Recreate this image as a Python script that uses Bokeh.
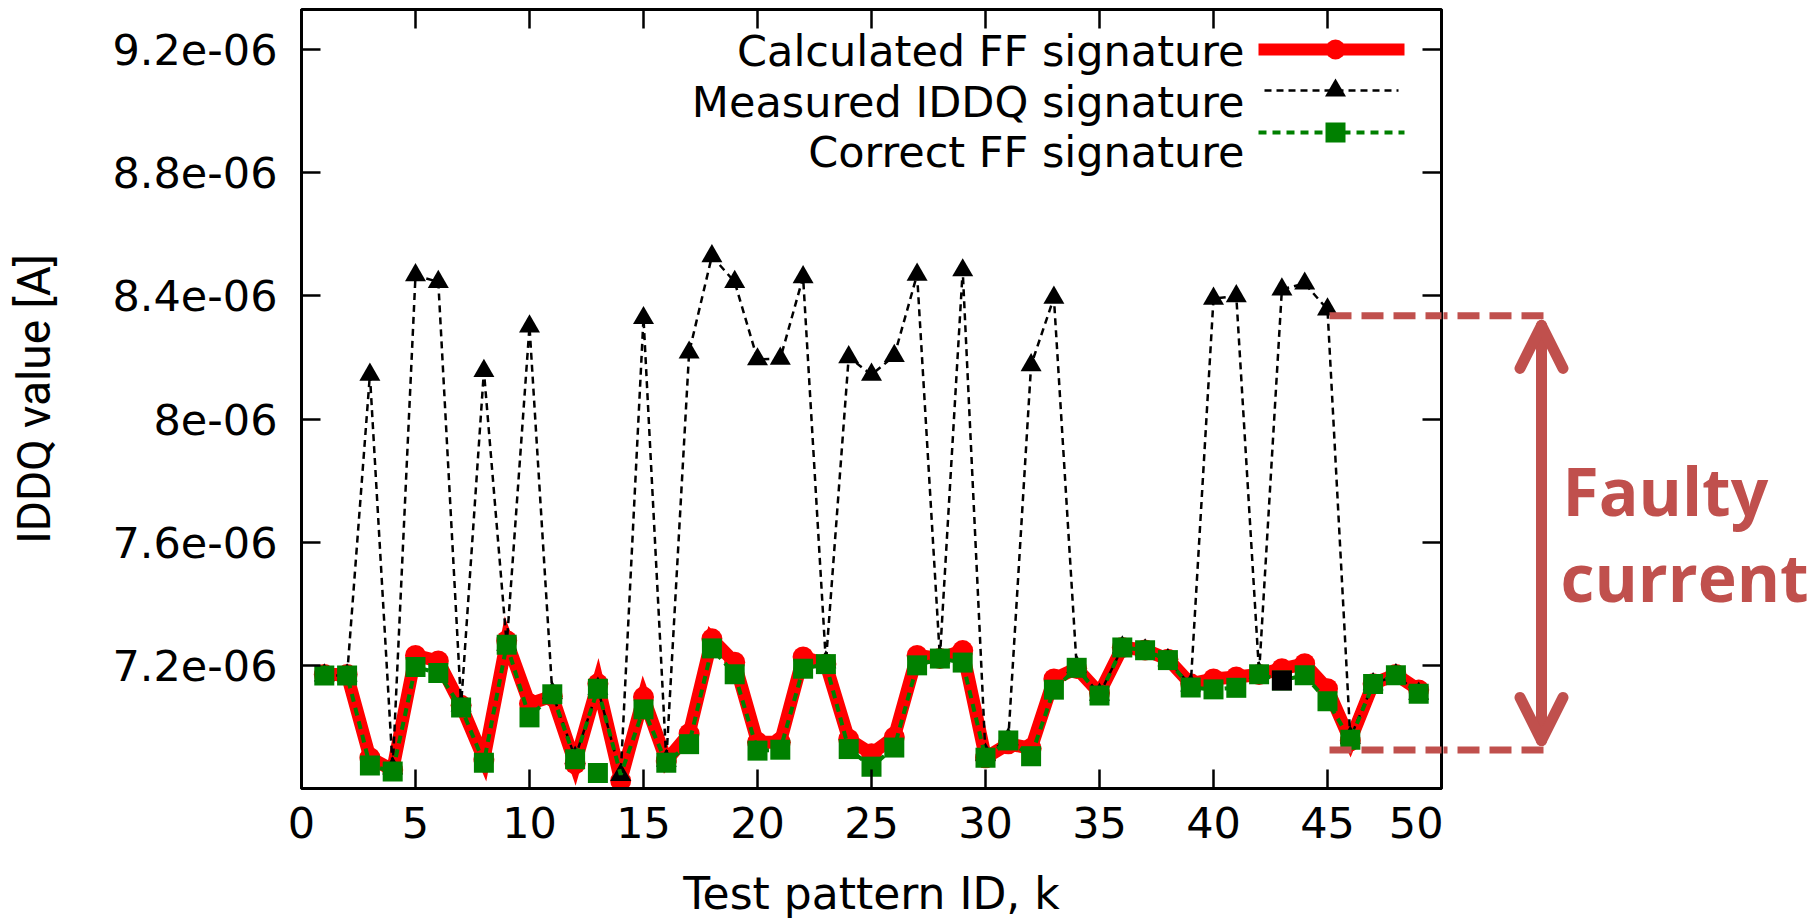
from bokeh.plotting import figure
from bokeh.layouts import row
from bokeh.models import (Range1d, FixedTicker, LinearAxis, CustomJSTickFormatter,
                          Label, ColumnDataSource, CDSView, IndexFilter)
from bokeh.core.properties import value
from bokeh.embed import file_html
from bokeh.resources import INLINE

# ---------------- data (values in microamperes) ----------------
pattern_id = list(range(1, 50))

calculated_ff_uA = [7.17, 7.17, 6.90, 6.86, 7.232, 7.214, 7.07, 6.895, 7.28, 7.075,
                    7.10, 6.88, 7.14, 6.825, 7.097, 6.89, 6.978, 7.286, 7.21, 6.95,
                    6.95, 7.227, 7.204, 6.96, 6.913, 6.967, 7.232, 7.222, 7.248, 6.90,
                    6.945, 6.93, 7.156, 7.19, 7.11, 7.258, 7.25, 7.22, 7.14, 7.156,
                    7.162, 7.17, 7.189, 7.205, 7.124, 6.955, 7.14, 7.17, 7.12]

measured_iddq_uA = [7.167, 7.167, 8.144, 6.865, 8.467, 8.445, 7.07, 8.156, 7.267, 8.301,
                    7.11, 6.90, 7.124, 6.844, 8.328, 6.89, 8.216, 8.529, 8.445, 8.194,
                    8.196, 8.461, 7.21, 8.201, 8.144, 8.205, 8.469, 7.225, 8.483, 6.91,
                    6.96, 8.175, 8.394, 7.195, 7.105, 7.258, 7.249, 7.217, 7.135, 8.391,
                    8.399, 7.175, 8.421, 8.440, 8.356, 6.965, 7.139, 7.168, 7.108]

correct_ff_uA = [7.167, 7.167, 6.875, 6.855, 7.195, 7.175, 7.063, 6.884, 7.267, 7.031,
                 7.106, 6.895, 7.124, 6.845, 7.057, 6.884, 6.944, 7.255, 7.171, 6.923,
                 6.926, 7.189, 7.204, 6.928, 6.871, 6.933, 7.200, 7.222, 7.209, 6.900,
                 6.956, 6.905, 7.121, 7.192, 7.102, 7.258, 7.249, 7.217, 7.128, 7.122,
                 7.127, 7.171, 7.151, 7.168, 7.083, 6.958, 7.139, 7.168, 7.108]

# correct-FF point whose marker is not shown in the original (measured triangle visible there)
correct_hidden_marker_k = [14]
# stray marks present in the original figure
extra_correct_k = [13]
extra_correct_uA = [6.85]
highlight_k = [43]
highlight_uA = [7.151]

# "Faulty current" band
faulty_low_uA = 6.925
faulty_high_uA = 8.335
faulty_label = ["Faulty", "current"]

x_ticks = [0, 5, 10, 15, 20, 25, 30, 35, 40, 45, 50]
y_ticks_uA = [6.8, 7.2, 7.6, 8.0, 8.4, 8.8, 9.2]
y_tick_labels = ["6.8e-06", "7.2e-06", "7.6e-06", "8e-06", "8.4e-06", "8.8e-06", "9.2e-06"]

series_names = ["Calculated FF signature", "Measured IDDQ signature", "Correct FF signature"]

U = 1e-6
# ---------------- layout ----------------
W, H = 1815, 921
FRAME_L, FRAME_T = 301, 9
FRAME_W, FRAME_H = 1140, 779
MAIN_W = FRAME_L + FRAME_W + 2
X_MIN, X_MAX = 0, 50
Y_MIN, Y_MAX = 6.8e-6, 9.33e-6
PX_PER_K = FRAME_W / (X_MAX - X_MIN)
Y_PER_PX = (Y_MAX - Y_MIN) / FRAME_H

RED = "#ff0000"
GREEN = "#008000"
FAULT = "#c0504d"
TXT_FONT = "DejaVu Sans"


def px_x(px):
    return X_MIN + (px - FRAME_L) / PX_PER_K


def px_y(py):
    return Y_MAX - (py - FRAME_T) * Y_PER_PX


p = figure(width=MAIN_W, height=H, output_backend="svg", toolbar_location=None, tools="",
           x_range=Range1d(X_MIN, X_MAX), y_range=Range1d(Y_MIN, Y_MAX),
           min_border_left=FRAME_L, min_border_right=MAIN_W - FRAME_L - FRAME_W,
           min_border_top=FRAME_T, min_border_bottom=H - FRAME_T - FRAME_H)
p.background_fill_color = "white"
p.border_fill_color = "white"
p.outline_line_color = "black"
p.outline_line_width = 3
p.xgrid.visible = False
p.ygrid.visible = False

xa = p.below[0]
xa.ticker = FixedTicker(ticks=x_ticks)
xa.major_tick_in = 19
xa.major_tick_out = 0
xa.minor_tick_in = 0
xa.minor_tick_out = 0
xa.major_tick_line_width = 2.5
xa.axis_line_width = 3
xa.major_label_text_font = TXT_FONT
xa.major_label_text_font_size = "43px"
xa.major_label_text_color = "black"
xa.major_label_standoff = 18
xa.axis_label = "Test pattern ID, k"
xa.axis_label_text_font = TXT_FONT
xa.axis_label_text_font_size = "44px"
xa.axis_label_text_font_style = "normal"
xa.axis_label_text_color = "black"
xa.axis_label_standoff = 27

ya = p.left[0]
ya.ticker = FixedTicker(ticks=[v * U for v in y_ticks_uA])
ya.formatter = CustomJSTickFormatter(
    args=dict(vals=[v * U for v in y_ticks_uA], labs=y_tick_labels),
    code="""
    for (let i = 0; i < vals.length; i++) {
        if (Math.abs(vals[i] - tick) < 1e-12) { return labs[i]; }
    }
    return "";
    """)
ya.major_tick_in = 19
ya.major_tick_out = 0
ya.minor_tick_in = 0
ya.minor_tick_out = 0
ya.major_tick_line_width = 2.5
ya.axis_line_width = 3
ya.major_label_text_font = TXT_FONT
ya.major_label_text_font_size = "43px"
ya.major_label_text_color = "black"
ya.major_label_standoff = 24
ya.axis_label = "IDDQ value [A]"
ya.axis_label_text_font = "Roboto"
ya.axis_label_text_font_size = "46px"
ya.axis_label_text_font_style = "normal"
ya.axis_label_text_color = "black"
ya.axis_label_standoff = 48

# mirrored ticks on top and right
blank = CustomJSTickFormatter(code="return '';")
top_ax = LinearAxis(ticker=FixedTicker(ticks=x_ticks), formatter=blank,
                    major_tick_in=19, major_tick_out=0, minor_tick_in=0, minor_tick_out=0,
                    major_tick_line_width=2.5, axis_line_color=None,
                    major_label_text_font_size="0px", major_label_standoff=0)
p.add_layout(top_ax, "above")
right_ax = LinearAxis(ticker=FixedTicker(ticks=[v * U for v in y_ticks_uA]), formatter=blank,
                      major_tick_in=19, major_tick_out=0, minor_tick_in=0, minor_tick_out=0,
                      major_tick_line_width=2.5, axis_line_color=None,
                      major_label_text_font_size="0px", major_label_standoff=0)
p.add_layout(right_ax, "right")

# ---------------- series ----------------
src = ColumnDataSource(dict(
    k=pattern_id,
    calc=[v * U for v in calculated_ff_uA],
    meas=[v * U for v in measured_iddq_uA],
    corr=[v * U for v in correct_ff_uA],
))

p.line("k", "calc", source=src, line_color=RED, line_width=13, line_join="miter")
p.scatter("k", "calc", source=src, marker="circle", size=21, fill_color=RED, line_color=None)

p.line("k", "meas", source=src, line_color="black", line_width=2.5, line_dash="7 5")
p.scatter("k", "meas", source=src, marker="triangle", size=21, fill_color="black", line_color=None)

p.line("k", "corr", source=src, line_color=GREEN, line_width=4, line_dash="8 6")
shown = [i for i, k in enumerate(pattern_id) if k not in correct_hidden_marker_k]
p.scatter("k", "corr", source=src, view=CDSView(filter=IndexFilter(shown)),
          marker="square", size=20, fill_color=GREEN, line_color=None)
p.scatter(extra_correct_k, [v * U for v in extra_correct_uA], marker="square", size=20,
          fill_color=GREEN, line_color=None)
p.scatter(highlight_k, [v * U for v in highlight_uA], marker="square", size=20,
          fill_color="black", line_color=None)

# ---------------- legend (text on the left, sample on the right) ----------------
leg_text_right = 1244
leg_rows_text = [50, 101, 151]
leg_rows_line = [49, 90, 132]
for name, ty in zip(series_names, leg_rows_text):
    p.add_layout(Label(x=px_x(leg_text_right), y=px_y(ty), text=name, text_align="right",
                       text_baseline="middle", text_font=TXT_FONT, text_font_size="43px",
                       text_color="black"))
mx = px_x(1335)
p.line([px_x(1258), px_x(1404)], [px_y(leg_rows_line[0])] * 2, line_color=RED, line_width=12)
p.scatter([mx], [px_y(leg_rows_line[0])], marker="circle", size=20, fill_color=RED, line_color=None)
p.line([px_x(1264), px_x(1398)], [px_y(leg_rows_line[1])] * 2, line_color="black",
       line_width=2.5, line_dash="7 5")
p.scatter([mx], [px_y(leg_rows_line[1])], marker="triangle", size=21, fill_color="black",
          line_color=None)
p.line([px_x(1258), px_x(1404)], [px_y(leg_rows_line[2])] * 2, line_color=GREEN,
       line_width=4, line_dash="8 6")
p.scatter([mx], [px_y(leg_rows_line[2])], marker="square", size=20, fill_color=GREEN,
          line_color=None)

# ---------------- "Faulty current" annotation (continues in a side panel) ----------------
SIDE_L = MAIN_W
side = figure(width=W - MAIN_W, height=H, output_backend="svg", toolbar_location=None, tools="",
              x_range=Range1d(px_x(SIDE_L), px_x(W)), y_range=Range1d(Y_MIN, Y_MAX),
              x_axis_location=None, y_axis_location=None,
              min_border_left=0, min_border_right=0,
              min_border_top=FRAME_T, min_border_bottom=H - FRAME_T - FRAME_H)
side.background_fill_color = "white"
side.border_fill_color = "white"
side.outline_line_color = None
side.grid.visible = False

band_x0, band_x1 = px_x(1329), px_x(1548)
band_src = ColumnDataSource(dict(x0=[band_x0, band_x0], x1=[band_x1, band_x1],
                                 y=[faulty_high_uA * U, faulty_low_uA * U]))
for fig in (p, side):
    fig.segment("x0", "y", "x1", "y", source=band_src, line_color=FAULT, line_width=7,
                line_dash="22 10")

arrow_x = px_x(1541)
inset = 9.5 * Y_PER_PX
tip_top = faulty_high_uA * U - inset
tip_bot = faulty_low_uA * U + inset
head_dx = 21.5 / PX_PER_K
head_dy = 43 * Y_PER_PX
side.segment([arrow_x], [tip_top], [arrow_x], [tip_bot], line_color=FAULT, line_width=11,
             line_cap="round")
side.multi_line([[arrow_x - head_dx, arrow_x, arrow_x + head_dx],
                 [arrow_x - head_dx, arrow_x, arrow_x + head_dx]],
                [[tip_top - head_dy, tip_top, tip_top - head_dy],
                 [tip_bot + head_dy, tip_bot, tip_bot + head_dy]],
                line_color=FAULT, line_width=11, line_cap="round", line_join="round")
side.text([px_x(1562), px_x(1560)], [px_y(489), px_y(575)], text=faulty_label,
          text_font=value("Open Sans"), text_font_style="bold", text_font_size="66px",
          text_color=FAULT, text_baseline="alphabetic", text_align="left")

layout = row(p, side)
open("out.html", "w").write(file_html(layout, INLINE))
